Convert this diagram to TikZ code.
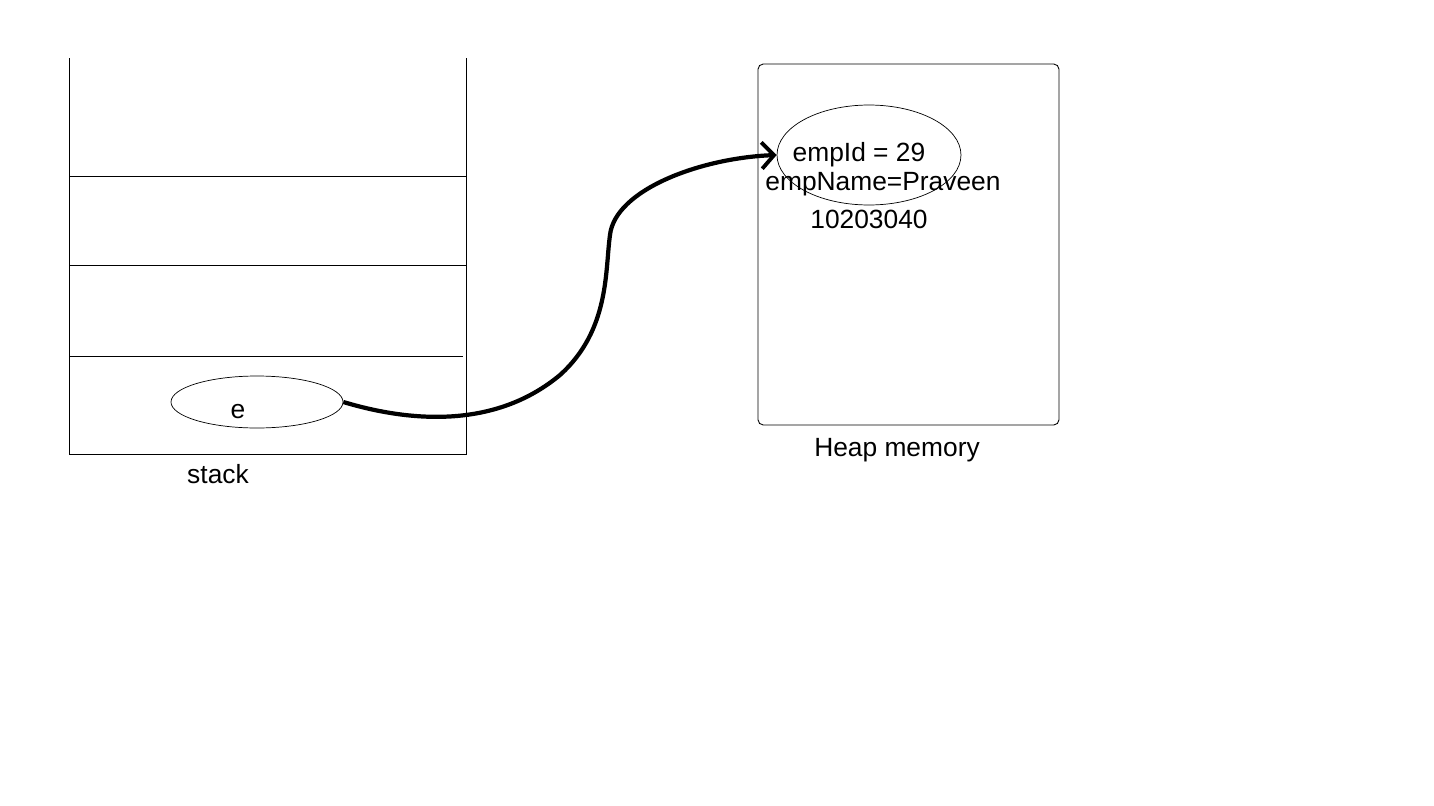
\documentclass[tikz,border=0pt]{standalone}
\usepackage{fontspec}
\setmainfont{Liberation Sans}
\usetikzlibrary{arrows.meta,shapes.geometric}
\begin{document}
\begin{tikzpicture}[x=0.02cm, y=-0.02cm,
    frame/.style={line width=0.5pt},
    oval/.style={ellipse, draw, line width=0.4pt, inner sep=0pt},
    txt/.style={inner sep=0pt, font=\fontsize{15pt}{17pt}\selectfont},
    ref/.style={line width=2.4pt, -{Straight Barb[length=7pt, width=15pt, line width=2.2pt]}}]
    \useasboundingbox (0,0) rectangle (1434,805);
    % stack
    \draw[frame] (69,58) -- (69,454) -- (466,454) -- (466,58);
    \draw[frame] (69,176) -- (466,176);
    \draw[frame] (69,265) -- (466,265);
    \draw[frame] (69,356) -- (463,356);
    \node[oval, minimum width=3.44cm, minimum height=1.04cm] (eVar) at (257,402) {};
    \node[txt] (eLbl) at (238,412) {e};
    \node[txt] (stackLbl) at (218,474) {stack};
    % heap
    \draw[frame, rounded corners=3pt] (758,64) rectangle (1059,425);
    \node[oval, minimum width=3.68cm, minimum height=2cm] (obj) at (869,155) {};
    \node[txt] (idLbl) at (859,155) {empId = 29};
    \node[txt] (nameLbl) at (883,184) {empName=Praveen};
    \node[txt] (addrLbl) at (869,219) {10203040};
    \node[txt] (heapLbl) at (897,450) {Heap memory};
    \draw[ref] (eVar.east) .. controls (420,425) and (500,425) .. (560,375)
        .. controls (610,330) and (605,270) .. (610,235)
        .. controls (615,190) and (700,158) .. (obj.west);
\end{tikzpicture}
\end{document}
